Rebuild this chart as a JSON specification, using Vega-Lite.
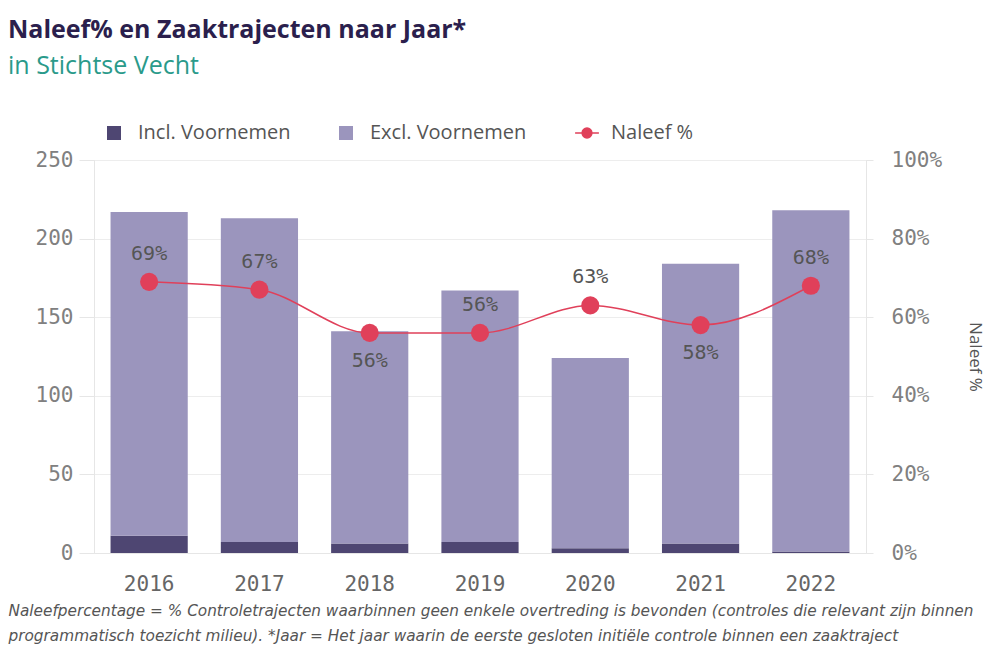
{
  "$schema": "https://vega.github.io/schema/vega-lite/v6.json",
  "width": 772,
  "height": 393,
  "autosize": {"type": "none"},
  "padding": {"left": 94, "top": 160, "right": 135, "bottom": 103},
  "background": "white",
  "title": {
    "text": "Naleef% en Zaaktrajecten naar Jaar*",
    "subtitle": "in Stichtse Vecht",
    "anchor": "start",
    "frame": "group",
    "dx": -86,
    "offset": 44,
    "font": "Open Sans",
    "fontSize": 25,
    "fontWeight": "bold",
    "color": "#2b1f4d",
    "subtitleFont": "Open Sans",
    "subtitleFontSize": 25,
    "subtitleColor": "#2a9a8a",
    "subtitlePadding": 11
  },
  "datasets": {
    "bars": [
      {"year": "2016", "series": "Incl. Voornemen", "count": 11},
      {"year": "2016", "series": "Excl. Voornemen", "count": 206},
      {"year": "2017", "series": "Incl. Voornemen", "count": 7},
      {"year": "2017", "series": "Excl. Voornemen", "count": 206},
      {"year": "2018", "series": "Incl. Voornemen", "count": 6},
      {"year": "2018", "series": "Excl. Voornemen", "count": 135},
      {"year": "2019", "series": "Incl. Voornemen", "count": 7},
      {"year": "2019", "series": "Excl. Voornemen", "count": 160},
      {"year": "2020", "series": "Incl. Voornemen", "count": 3},
      {"year": "2020", "series": "Excl. Voornemen", "count": 121},
      {"year": "2021", "series": "Incl. Voornemen", "count": 6},
      {"year": "2021", "series": "Excl. Voornemen", "count": 178},
      {"year": "2022", "series": "Incl. Voornemen", "count": 1},
      {"year": "2022", "series": "Excl. Voornemen", "count": 217}
    ],
    "naleef": [
      {"year": "2016", "pct": 0.69},
      {"year": "2017", "pct": 0.67},
      {"year": "2018", "pct": 0.56},
      {"year": "2019", "pct": 0.56},
      {"year": "2020", "pct": 0.63},
      {"year": "2021", "pct": 0.58},
      {"year": "2022", "pct": 0.68}
    ]
  },
  "encoding": {
    "x": {
      "field": "year",
      "type": "ordinal",
      "scale": {"paddingInner": 0.3, "paddingOuter": 0.15},
      "axis": {
        "title": [
          "Naleefpercentage = % Controletrajecten waarbinnen geen enkele overtreding is bevonden (controles die relevant zijn binnen",
          "programmatisch toezicht milieu). *Jaar = Het jaar waarin de eerste gesloten initiële controle binnen een zaaktraject"
        ],
        "labelAngle": 0,
        "ticks": false,
        "domain": true,
        "domainColor": "#e6e6e6",
        "labelFont": "DejaVu Sans Mono",
        "labelFontSize": 21,
        "labelColor": "#666666",
        "labelPadding": 20,
        "titleFont": "DejaVu Sans",
        "titleFontStyle": "italic",
        "titleFontWeight": "normal",
        "titleFontSize": 15.3,
        "titleColor": "#555555",
        "titleAlign": "left",
        "titleAnchor": "start",
        "titleBaseline": "top",
        "titleX": -86,
        "titleY": 50,
        "titleLineHeight": 25
      }
    }
  },
  "layer": [
    {
      "data": {"name": "bars"},
      "mark": {"type": "bar"},
      "encoding": {
        "y": {
          "field": "count",
          "type": "quantitative",
          "stack": "zero",
          "scale": {"domain": [0, 250]},
          "axis": {
            "title": null,
            "values": [0, 50, 100, 150, 200, 250],
            "labelFont": "DejaVu Sans Mono",
            "labelFontSize": 21,
            "labelColor": "#808080",
            "grid": true,
            "gridColor": "#ededed",
            "domain": true,
            "domainColor": "#e6e6e6",
            "tickColor": "#e6e6e6",
            "tickSize": 15,
            "labelPadding": 6
          }
        },
        "color": {
          "field": "series",
          "type": "nominal",
          "scale": {
            "domain": ["Incl. Voornemen", "Excl. Voornemen", "Naleef %"],
            "range": ["#4e4672", "#9b95bd", "#e0405a"]
          },
          "legend": {
            "orient": "none",
            "legendX": 10,
            "legendY": -37,
            "direction": "horizontal",
            "title": null,
            "labelFont": "Open Sans",
            "labelFontSize": 20,
            "labelColor": "#555555",
            "symbolSize": 196,
            "symbolType": "square",
            "columnPadding": 45,
            "labelOffset": 14,
            "encode": {
              "symbols": {
                "update": {
                  "shape": {"signal": "datum.value === 'Naleef %' ? 'M -1.7 0 L 1.7 0 M 0.7 0 A 0.7 0.7 0 1 1 -0.7 0 A 0.7 0.7 0 1 1 0.7 0 Z' : 'square'"},
                  "fill": {"signal": "scale('color', datum.value)"},
                  "stroke": {"signal": "scale('color', datum.value)"},
                  "strokeWidth": {"signal": "datum.value === 'Naleef %' ? 1.5 : 0"},
                  "opacity": {"value": 1}
                }
              }
            }
          }
        },
        "order": {"field": "series", "sort": "descending"}
      }
    },
    {
      "data": {"name": "naleef"},
      "encoding": {
        "y": {
          "field": "pct",
          "type": "quantitative",
          "scale": {"domain": [0, 1]},
          "axis": {
            "orient": "right",
            "format": ".0%",
            "values": [0, 0.2, 0.4, 0.6, 0.8, 1],
            "grid": false,
            "title": "Naleef %",
            "titleFont": "Open Sans",
            "titleFontSize": 17,
            "titleFontWeight": "normal",
            "titleColor": "#555555",
            "titleAngle": 90,
            "titlePadding": 24,
            "labelFont": "DejaVu Sans Mono",
            "labelFontSize": 21,
            "labelColor": "#808080",
            "domain": true,
            "domainColor": "#e6e6e6",
            "tickColor": "#e6e6e6",
            "tickSize": 7,
            "labelPadding": 18
          }
        }
      },
      "layer": [
        {
          "mark": {"type": "line", "interpolate": "monotone", "strokeWidth": 1.5, "color": "#e0405a"},
          "encoding": {"color": {"datum": "Naleef %"}}
        },
        {
          "mark": {"type": "point", "filled": true, "size": 330, "opacity": 1},
          "encoding": {"color": {"datum": "Naleef %"}}
        },
        {
          "transform": [{"filter": "datum.year != '2018' && datum.year != '2021'"}],
          "mark": {"type": "text", "font": "DejaVu Sans Mono", "fontSize": 20, "color": "#555555", "baseline": "middle", "dy": -28},
          "encoding": {
            "text": {"field": "pct", "type": "quantitative", "format": ".0%"}
          }
        },
        {
          "transform": [{"filter": "datum.year == '2018' || datum.year == '2021'"}],
          "mark": {"type": "text", "font": "DejaVu Sans Mono", "fontSize": 20, "color": "#555555", "baseline": "middle", "dy": 28},
          "encoding": {
            "text": {"field": "pct", "type": "quantitative", "format": ".0%"}
          }
        }
      ]
    }
  ],
  "resolve": {"scale": {"y": "independent"}}
}
